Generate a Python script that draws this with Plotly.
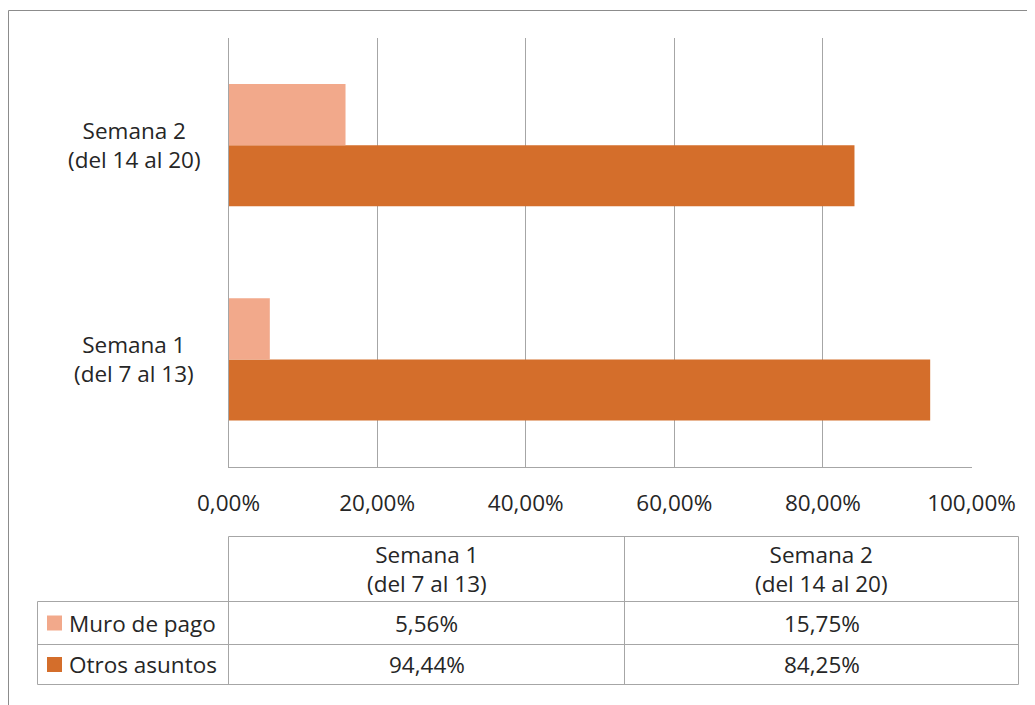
import plotly.graph_objects as go

# ---- data ----
categories = ["Semana 1<br>(del 7 al 13)", "Semana 2<br>(del 14 al 20)"]
series_names = ["Muro de pago", "Otros asuntos"]
muro_de_pago = [5.56, 15.75]
otros_asuntos = [94.44, 84.25]
x_ticks = [0, 20, 40, 60, 80, 100]
x_tick_labels = ["0,00%", "20,00%", "40,00%", "60,00%", "80,00%", "100,00%"]

colors = {"Muro de pago": "#F2A98B", "Otros asuntos": "#D46E2B"}
W, H = 1035, 705
OFF = 8  # page body margin
FONT = "Open Sans"
TXT = "#262626"
GRID = "#A6A6A6"
FS = 22.5


def X(px):
    return (px - OFF) / W


def Y(py):
    return 1 - (py - OFF) / H


fig = go.Figure()
# Otros first so it sits below Muro in each group
fig.add_trace(go.Bar(y=categories, x=otros_asuntos, orientation="h",
                     name=series_names[1], marker_color=colors["Otros asuntos"],
                     marker_line_width=0))
fig.add_trace(go.Bar(y=categories, x=muro_de_pago, orientation="h",
                     name=series_names[0], marker_color=colors["Muro de pago"],
                     marker_line_width=0))

shapes = []
annotations = []

# outer frame (continues past right/bottom edges)
shapes.append(dict(type="rect", xref="paper", yref="paper",
                   x0=X(8.5), x1=X(1060), y0=Y(730), y1=Y(10.5),
                   line=dict(color="#8C8C8C", width=1), layer="below"))

# category labels, centered
for c in categories:
    annotations.append(dict(xref="paper", yref="y", x=X(134), y=c, text=c,
                            showarrow=False, xanchor="center", yanchor="middle",
                            align="center", font=dict(family=FONT, size=FS, color=TXT)))

# ---- data table ----
col_x = [37.5, 228.5, 624.5, 1018.5]
row_y = [536.5, 601.5, 644.5, 684.5]
lc = dict(color=GRID, width=1)


def hline(x0, x1, y):
    shapes.append(dict(type="line", xref="paper", yref="paper",
                       x0=X(x0), x1=X(x1), y0=Y(y), y1=Y(y), line=lc))


def vline(x, y0, y1):
    shapes.append(dict(type="line", xref="paper", yref="paper",
                       x0=X(x), x1=X(x), y0=Y(y0), y1=Y(y1), line=lc))


hline(col_x[1], col_x[3], row_y[0])
for yy in row_y[1:]:
    hline(col_x[0], col_x[3], yy)
vline(col_x[0], row_y[1], row_y[3])
for xx in col_x[1:]:
    vline(xx, row_y[0], row_y[3])

# header
for i, c in enumerate(categories):
    cx = (col_x[i + 1] + col_x[i + 2]) / 2
    annotations.append(dict(xref="paper", yref="paper", x=X(cx),
                            y=Y((row_y[0] + row_y[1]) / 2), text=c, showarrow=False,
                            xanchor="center", yanchor="middle", align="center",
                            font=dict(family=FONT, size=FS, color=TXT)))

# rows
rows = [(series_names[0], muro_de_pago), (series_names[1], otros_asuntos)]
for r, (name, vals) in enumerate(rows):
    cy = (row_y[r + 1] + row_y[r + 2]) / 2
    # legend swatch
    shapes.append(dict(type="rect", xref="paper", yref="paper",
                       x0=X(47), x1=X(62), y0=Y(cy + 7.5), y1=Y(cy - 7.5),
                       fillcolor=colors[name], line=dict(width=0)))
    annotations.append(dict(xref="paper", yref="paper", x=X(67), y=Y(cy), text=name,
                            showarrow=False, xanchor="left", yanchor="middle",
                            font=dict(family=FONT, size=FS, color=TXT)))
    for i, v in enumerate(vals):
        cx = (col_x[i + 1] + col_x[i + 2]) / 2
        annotations.append(dict(xref="paper", yref="paper", x=X(cx), y=Y(cy),
                                text=f"{v:.2f}".replace(".", ",") + "%", showarrow=False,
                                xanchor="center", yanchor="middle",
                                font=dict(family=FONT, size=FS, color=TXT)))

fig.update_layout(
    width=W, height=H,
    margin=dict(l=0, r=0, t=0, b=0, pad=0, autoexpand=False),
    paper_bgcolor="white", plot_bgcolor="white",
    barmode="group", bargap=0.43, bargroupgap=0,
    showlegend=False,
    font=dict(family=FONT, size=FS, color=TXT),
    xaxis=dict(domain=[X(228.5), X(971.5)], range=[0, 100], tickvals=x_ticks,
               ticktext=x_tick_labels, showgrid=True, gridcolor=GRID,
               gridwidth=1, zeroline=False, showline=True, linecolor=GRID,
               linewidth=1, ticks="", ticklabelstandoff=16, automargin=False,
               tickfont=dict(family=FONT, size=FS, color=TXT), fixedrange=True),
    yaxis=dict(domain=[Y(466.5), Y(38)], type="category",
               categoryorder="array", categoryarray=categories, automargin=False,
               showticklabels=False, showgrid=False, zeroline=False,
               showline=True, linecolor=GRID, linewidth=1, ticks="", fixedrange=True),
    shapes=shapes, annotations=annotations,
)

fig.write_html("out.html")
